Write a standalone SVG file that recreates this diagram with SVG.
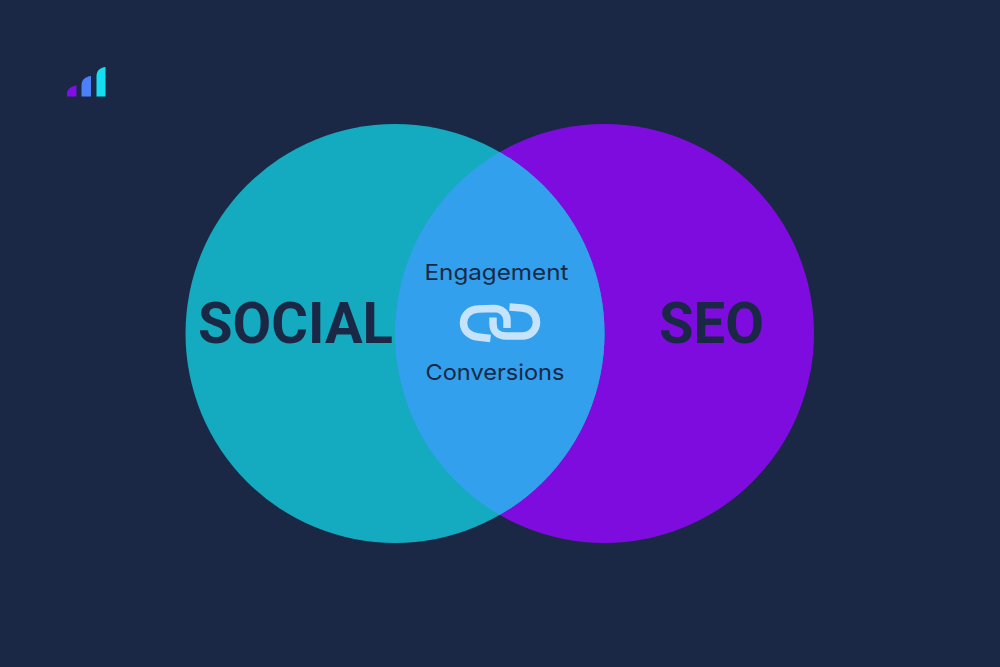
<svg xmlns="http://www.w3.org/2000/svg" width="1000" height="667" viewBox="0 0 1000 667">
<style>
.lbl{font-family:"Inter","Liberation Sans",sans-serif;font-size:22px;fill:#1a2845;text-anchor:middle}
.big{font-family:"Roboto","Liberation Sans",sans-serif;font-size:58px;font-weight:700;fill:#1a2845}
.link{fill:none;stroke:#c5e3fb;stroke-width:7.500}
</style>
<defs><clipPath id="c"><circle cx="395" cy="333.5" r="209.5"/></clipPath></defs>
<rect width="1000" height="667" fill="#1a2845"/>
<g id="logo">
<path d="M67 96.500V94C67 89.500 71 86 76.500 85.500V96.500Z" fill="#7f0fe6"/>
<path d="M81.500 96.500V85C81.500 80 85.500 76.500 91 76V96.500Z" fill="#4c80fb"/>
<path d="M96.500 96.500V76C96.500 71 100 67.500 105.500 67V96.500Z" fill="#14def0"/>
</g>
<g id="seo"><circle cx="604.500" cy="333.500" r="209.500" fill="#7f0cdf"/><text class="big" x="659" y="343" textLength="105" lengthAdjust="spacingAndGlyphs">SEO</text></g>
<g id="social"><circle cx="395" cy="333.500" r="209.500" fill="#14aabf"/><text class="big" x="198" y="343" textLength="195" lengthAdjust="spacingAndGlyphs">SOCIAL</text></g>
<g id="overlap">
<circle cx="604.500" cy="333.500" r="209.500" fill="#32a0ec" clip-path="url(#c)"/>
<text class="lbl" x="496.500" y="280" textLength="144" lengthAdjust="spacingAndGlyphs">Engagement</text>
<text class="lbl" x="495" y="380" textLength="139" lengthAdjust="spacingAndGlyphs">Conversions</text>
<path class="link" d="M490.500 338.500L478 337C469.500 336 463.500 330.500 463.500 323C463.500 315 469.500 309.500 478 309L494 308.500C502 308.500 507 314 507 320V328"/>
<path class="link" d="M493 317.500V324C493 331 498 336 506 336H522C530.500 336 536.500 330 536.500 322C536.500 314 530.500 308.500 522 308L509.500 307"/>
</g>
</svg>
